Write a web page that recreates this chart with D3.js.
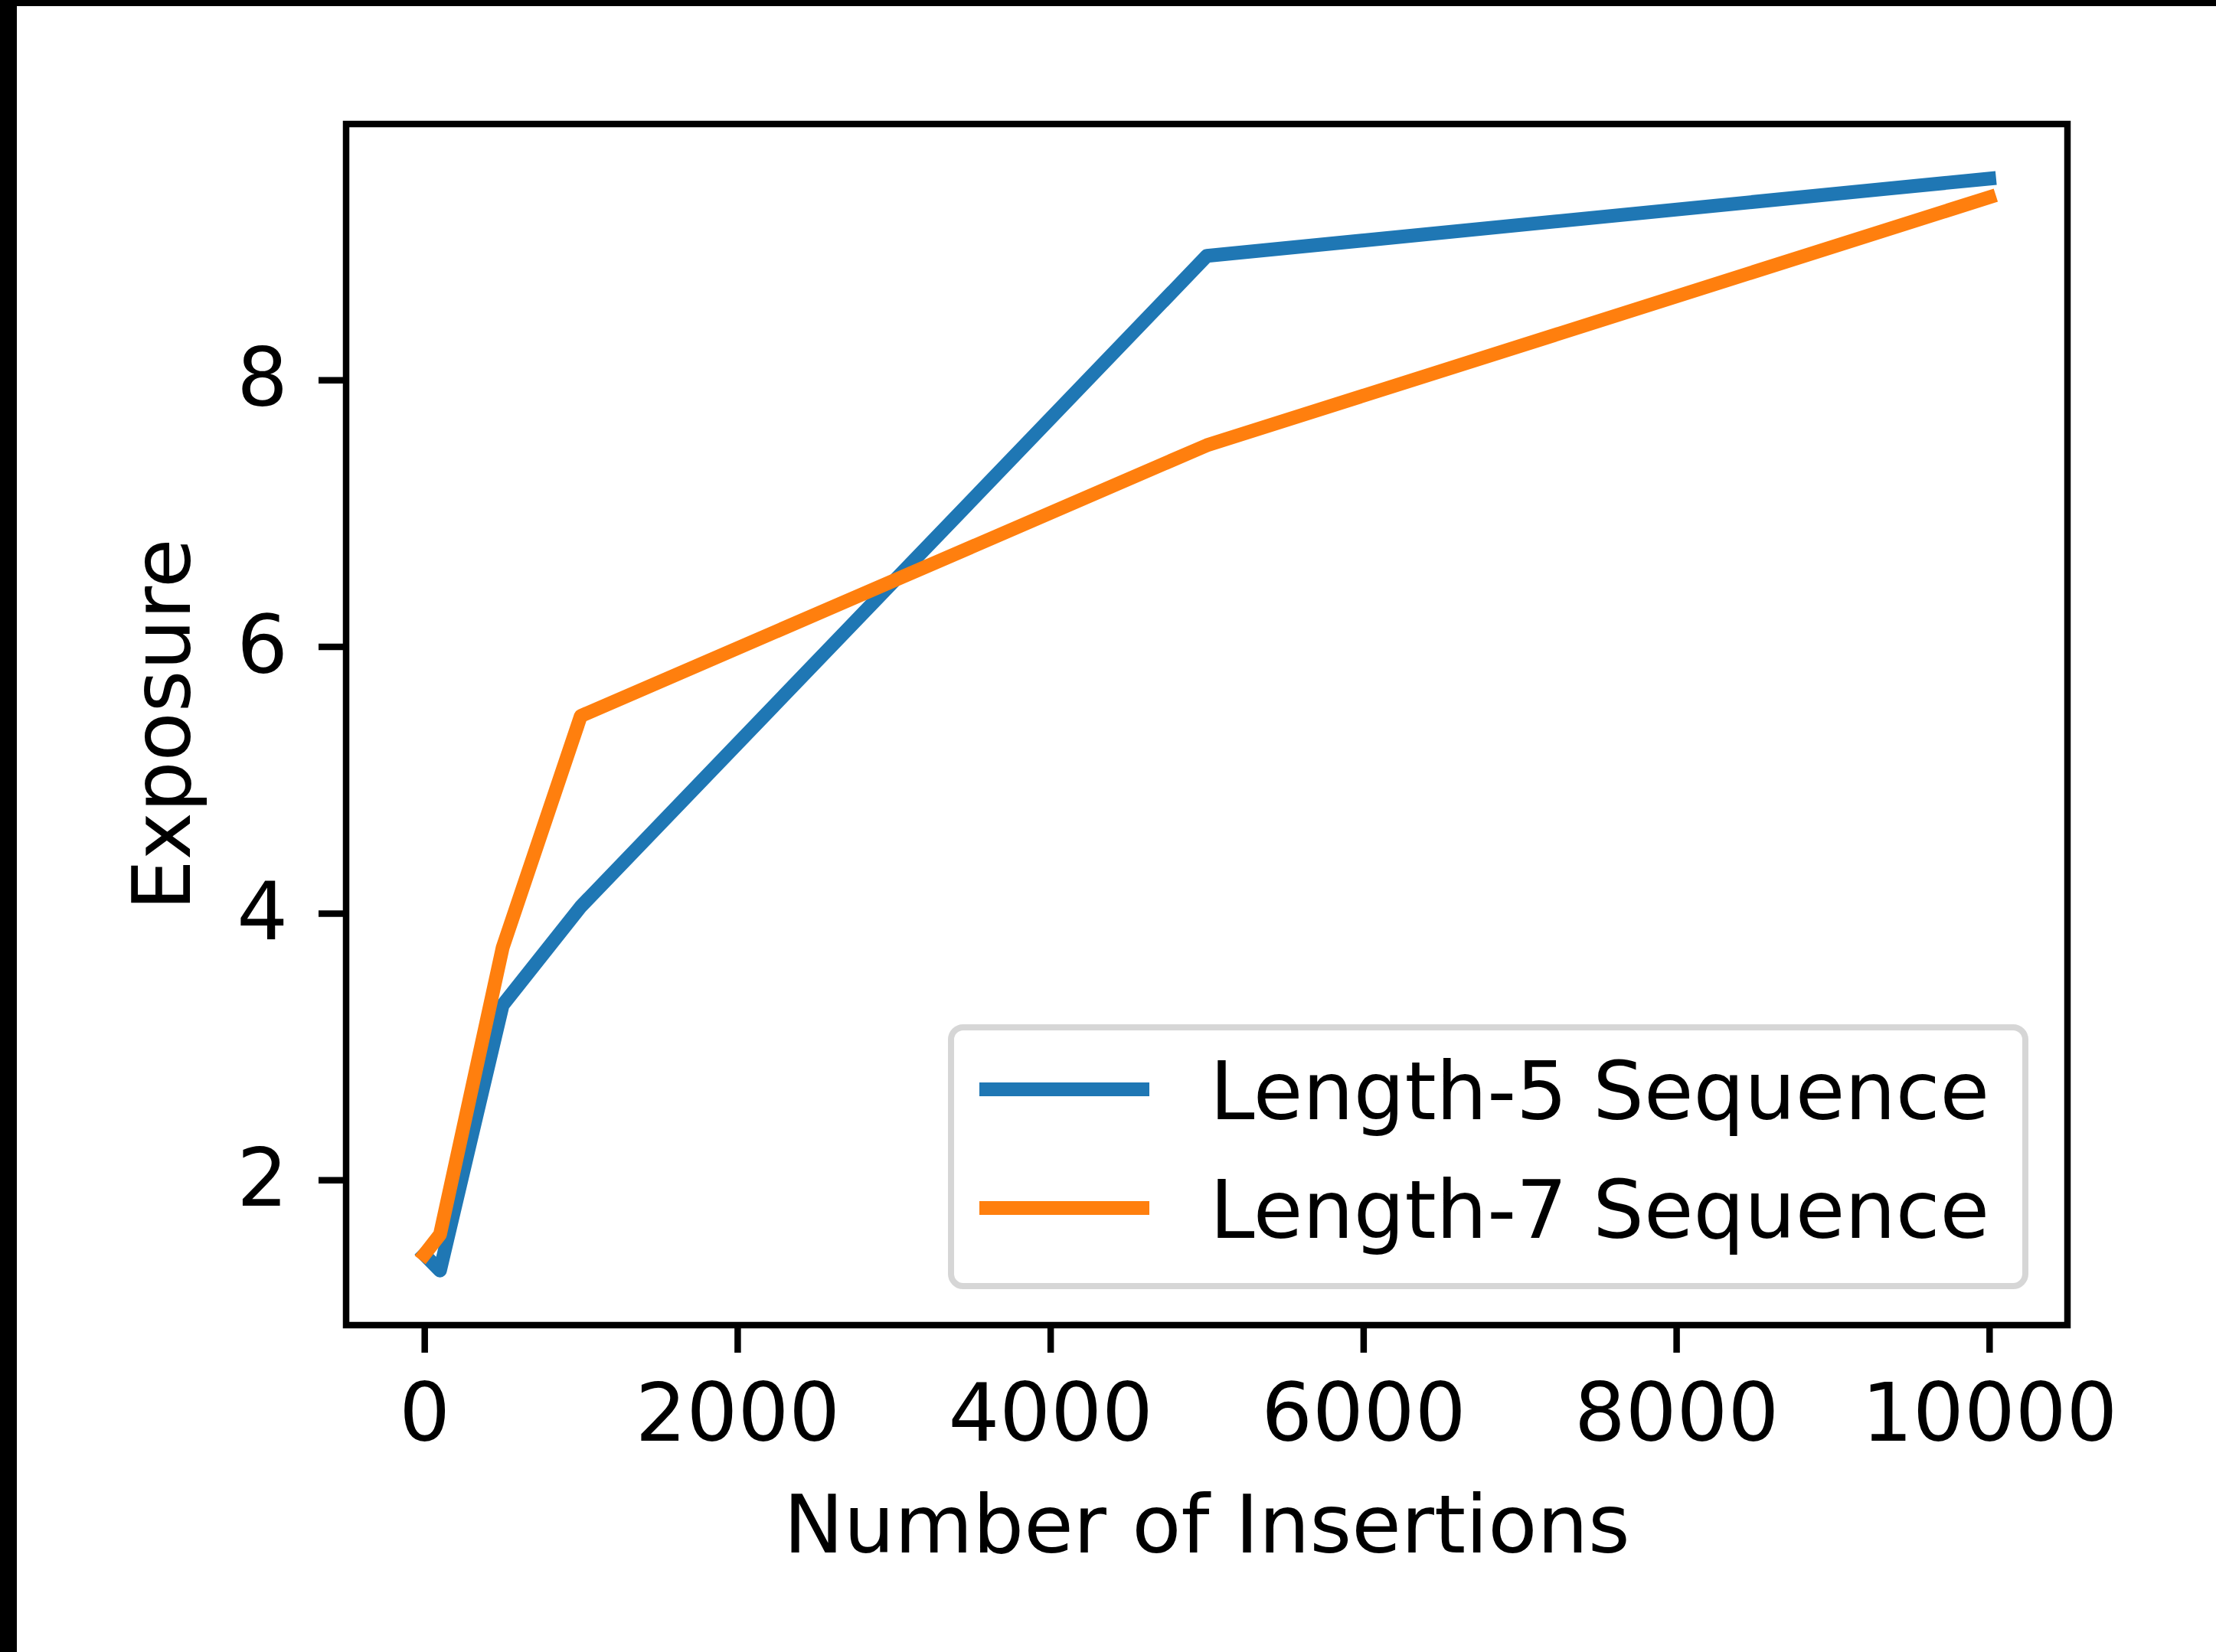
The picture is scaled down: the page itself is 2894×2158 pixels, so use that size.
<!DOCTYPE html>
<html>
<head>
<meta charset="utf-8">
<script src="https://cdn.jsdelivr.net/npm/d3@7"></script>
<style>
  html, body { margin: 0; padding: 0; background: #fff; }
  svg { display: block; }
  text { font-family: "DejaVu Sans", sans-serif; fill: #000; }
</style>
</head>
<body>
<svg id="chart"></svg>
<script>
// data
const insertions = [0, 100, 500, 1000, 5000, 10000];
const len5 = [1.44, 1.32, 3.31, 4.05, 8.93, 9.51];
const len7 = [1.44, 1.59, 3.74, 5.48, 7.51, 9.37];
const seriesNames = ["Length-5 Sequence", "Length-7 Sequence"];
const seriesColors = ["#1f77b4", "#ff7f0e"];
const xTicks = [0, 2000, 4000, 6000, 8000, 10000];
const yTicks = [2, 4, 6, 8];

const W = 2894, H = 2158;
const plot = { left: 452, top: 162, right: 2700, bottom: 1731 };
const fontSize = 105;
const lineWidth = 18;

const svg = d3.select("#chart").attr("width", W).attr("height", H);

// black strips along top and left edges of the reference
svg.append("rect").attr("x", 0).attr("y", 0).attr("width", W).attr("height", 8).attr("fill", "#000");
svg.append("rect").attr("x", 0).attr("y", 0).attr("width", 22).attr("height", H).attr("fill", "#000");

// matplotlib-style 5% margins
function padded(vals) {
  const [lo, hi] = d3.extent(vals);
  const m = (hi - lo) * 0.05;
  return [lo - m, hi + m];
}

const x = d3.scaleLinear().domain(padded(insertions)).range([plot.left, plot.right]);
const y = d3.scaleLinear().domain(padded(len5.concat(len7))).range([plot.bottom, plot.top]);

const series = [len5, len7].map((vals, i) => ({
  name: seriesNames[i],
  color: seriesColors[i],
  points: insertions.map((xv, j) => [xv, vals[j]])
}));

const line = d3.line().x(d => x(d[0])).y(d => y(d[1]));

svg.append("g")
  .selectAll("path")
  .data(series)
  .join("path")
  .attr("fill", "none")
  .attr("stroke", d => d.color)
  .attr("stroke-width", lineWidth)
  .attr("stroke-linejoin", "round")
  .attr("stroke-linecap", "square")
  .attr("d", d => line(d.points));

// axes
const xAxis = svg.append("g")
  .attr("transform", `translate(0,${plot.bottom})`)
  .call(d3.axisBottom(x).tickValues(xTicks).tickFormat(d3.format("d")).tickSize(36).tickPadding(40));

const yAxis = svg.append("g")
  .attr("transform", `translate(${plot.left},0)`)
  .call(d3.axisLeft(y).tickValues(yTicks).tickFormat(d3.format("d")).tickSize(36).tickPadding(40));

[xAxis, yAxis].forEach(ax => {
  ax.select(".domain").remove();
  ax.selectAll(".tick line").attr("stroke", "#000").attr("stroke-width", 8.5);
  ax.selectAll(".tick text")
    .attr("font-size", fontSize)
    .attr("font-family", "DejaVu Sans")
    .attr("fill", "#000");
});

// frame
svg.append("rect")
  .attr("x", plot.left).attr("y", plot.top)
  .attr("width", plot.right - plot.left).attr("height", plot.bottom - plot.top)
  .attr("fill", "none").attr("stroke", "#000").attr("stroke-width", 8.5)
  .attr("stroke-linejoin", "miter");

// axis labels
svg.append("text")
  .attr("x", (plot.left + plot.right) / 2)
  .attr("y", 2028)
  .attr("text-anchor", "middle")
  .attr("font-size", fontSize)
  .text("Number of Insertions");

svg.append("text")
  .attr("transform", `translate(248,${(plot.top + plot.bottom) / 2}) rotate(-90)`)
  .attr("text-anchor", "middle")
  .attr("font-size", fontSize)
  .text("Exposure");

// legend
const legend = svg.append("g").attr("transform", `translate(${plot.right - 1458},${plot.bottom - 389})`);
legend.append("rect")
  .attr("x", 0).attr("y", 0).attr("width", 1403).attr("height", 338)
  .attr("rx", 16)
  .attr("fill", "#fff").attr("fill-opacity", 0.8)
  .attr("stroke", "#d6d6d6").attr("stroke-width", 8);

const rows = legend.selectAll("g.row")
  .data(series)
  .join("g")
  .attr("class", "row")
  .attr("transform", (d, i) => `translate(0,${81 + i * 155})`);

rows.append("line")
  .attr("x1", 46).attr("x2", 250)
  .attr("stroke", d => d.color).attr("stroke-width", lineWidth)
  .attr("stroke-linecap", "square");

rows.append("text")
  .attr("x", 338)
  .attr("y", 39)
  .attr("font-size", fontSize)
  .text(d => d.name);
</script>
</body>
</html>
